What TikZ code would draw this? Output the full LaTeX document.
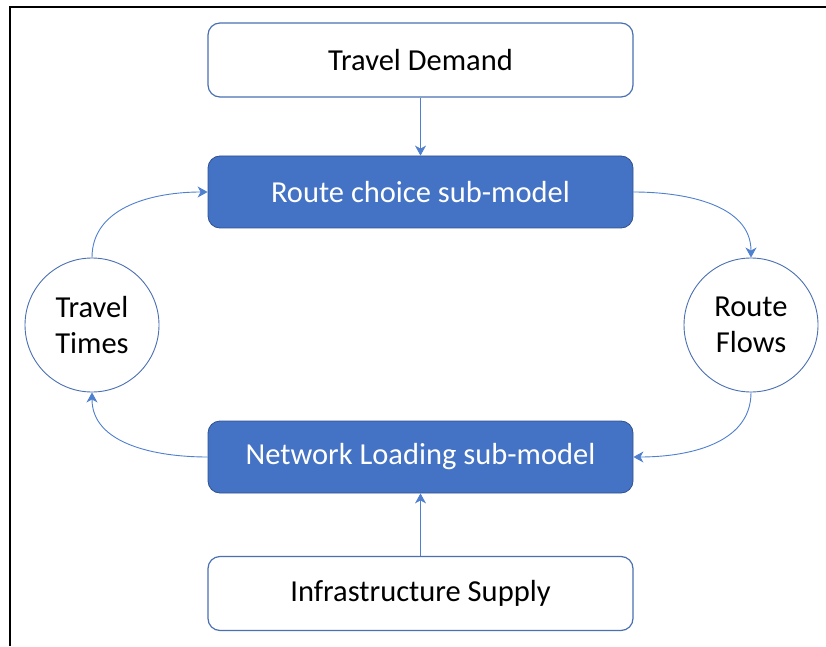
\documentclass[tikz,border=0pt]{standalone}
\usepackage{fontspec}
\setmainfont{Carlito}
\usetikzlibrary{arrows.meta}
\definecolor{accent}{HTML}{4472C4}
\definecolor{edgeblue}{HTML}{4A6FB3}
\definecolor{darkedge}{HTML}{2F528F}
\definecolor{linkblue}{HTML}{4F7FCF}
\begin{document}
\begin{tikzpicture}[x=1pt,y=1pt,
  every node/.style={font=\fontsize{30.5}{36}\selectfont},
  inputbox/.style={draw=edgeblue, line width=1.2pt, fill=white, rounded corners=12pt,
    minimum width=425pt, minimum height=74pt, text=black},
  modelbox/.style={draw=darkedge, line width=0.8pt, fill=accent, rounded corners=12pt,
    minimum width=425pt, minimum height=72pt, text=white},
  statecircle/.style={shape=circle, inner sep=0pt, draw=edgeblue, line width=0.9pt,
    fill=white, minimum size=134pt, align=center, text=black},
  link/.style={draw=linkblue, line width=0.9pt,
    -{Stealth[length=10pt,width=11pt,inset=3pt]}}
]
\useasboundingbox (0,0) rectangle (826,646);
% frame edges
\draw[line width=2pt, black] (10,0) -- (10,639) -- (826,639);

\node[inputbox] (demand) at (420.5,586) {Travel Demand};
\node[modelbox] (route) at (420.5,454) {Route choice sub-model};
\node[modelbox] (load) at (420.5,189) {Network Loading sub-model};
\node[inputbox] (supply) at (420.5,52.5) {Infrastructure Supply};

\node[statecircle] (times) at (92,321) {Travel\\Times};
\node[statecircle] (flows) at (751,321) {Route\\Flows};

\draw[link] (demand.south) -- (route.north);
\draw[link] (supply.north) -- (load.south);
\draw[link] (route.east) to[out=0,in=90] (flows.north);
\draw[link] (flows.south) to[out=-90,in=0] (load.east);
\draw[link] (load.west) to[out=180,in=-90] (times.south);
\draw[link] (times.north) to[out=90,in=180] (route.west);
\end{tikzpicture}
\end{document}
